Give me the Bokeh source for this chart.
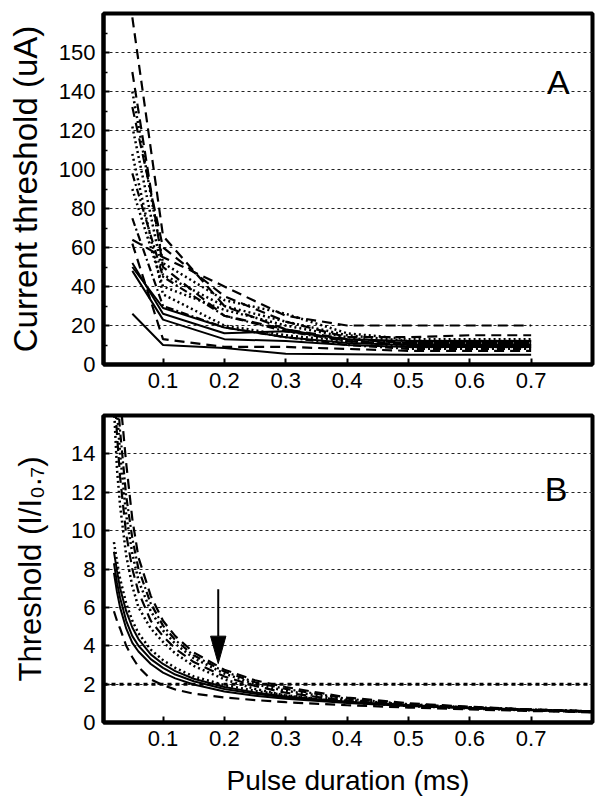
from bokeh.plotting import figure
from bokeh.layouts import column
from bokeh.models import Range1d, FixedTicker, Span, Label
from bokeh.embed import file_html
from bokeh.resources import INLINE

FONT = "Liberation Sans"

# ---------------- Panel A data: current threshold (uA) vs pulse duration (ms)
pulse_a = [0.05, 0.1, 0.2, 0.3, 0.4, 0.5, 0.6, 0.7]
a_solid = [
    [26, 10, 8.4, 5.5, 5.2, 5.0, 5.0, 5.0],
    [48, 23, 13, 12, 10, 9, 9, 9],
    [52, 26, 16, 17, 13, 12, 12, 12],
    [50, 29, 19, 14, 11, 10, 10, 10],
]
a_dashed = [
    [178, 66, 30, 18, 13, 11, 11, 11],
    [64, 55, 40, 25, 20, 20, 20, 20],
    [62, 13, 9, 9, 8, 7, 7, 7],
    [150, 50, 25, 18, 12, 10, 10, 10],
    [132, 60, 35, 22, 14, 14, 15, 15],
]
a_dotted = [
    [140, 52, 33, 26, 16, 13, 13, 13],
    [122, 46, 30, 22, 15, 12, 12, 12],
    [90, 40, 28, 20, 14, 10, 10, 10],
    [108, 36, 20, 15, 12, 9, 9, 9],
]
a_dashdot = [
    [75, 30, 19, 14, 10, 8, 8, 8],
    [98, 45, 25, 17, 12, 11, 11, 11],
]
y_ticks_a = [0, 20, 40, 60, 80, 100, 120, 140, 160]
y_minor_a = [10, 30, 50, 70, 90, 110, 130, 150, 170]
y_labels_a = {160: "150"}

# ---------------- Panel B data: normalised threshold I/I0.7
pulse_b = [0.02, 0.025, 0.03, 0.04, 0.05, 0.06, 0.08, 0.1, 0.12, 0.15,
           0.2, 0.25, 0.3, 0.4, 0.5, 0.6, 0.7, 0.8]
b_solid = [
    [7.8, 6.8, 6.0, 4.9, 4.15, 3.7, 3.05, 2.6, 2.3, 1.98, 1.62, 1.4, 1.24, 1.02, 0.86, 0.74, 0.64, 0.56],
    [8.3, 7.3, 6.5, 5.3, 4.5, 4.0, 3.3, 2.85, 2.5, 2.15, 1.75, 1.5, 1.3, 1.05, 0.88, 0.75, 0.65, 0.57],
    [8.9, 7.9, 7.0, 5.8, 4.95, 4.35, 3.55, 3.05, 2.68, 2.28, 1.85, 1.57, 1.36, 1.08, 0.9, 0.77, 0.66, 0.58],
]
b_dashed = [
    [5.8, 5.3, 4.9, 4.0, 3.4, 2.9, 2.25, 1.95, 1.72, 1.5, 1.3, 1.17, 1.06, 0.9, 0.78, 0.68, 0.6, 0.53],
    [18, 15, 12.8, 9.8, 8.0, 6.8, 5.3, 4.5, 3.85, 3.15, 2.4, 1.9, 1.55, 1.13, 0.9, 0.76, 0.65, 0.56],
    [21, 19, 17, 13.5, 10.6, 8.6, 6.6, 5.3, 4.5, 3.65, 2.75, 2.2, 1.85, 1.3, 1.0, 0.82, 0.68, 0.58],
]
b_dotted = [
    [9.4, 8.4, 7.5, 6.2, 5.3, 4.65, 3.8, 3.25, 2.85, 2.4, 1.95, 1.65, 1.42, 1.12, 0.92, 0.78, 0.67, 0.58],
    [16.5, 13.2, 11.3, 8.7, 7.1, 6.0, 4.9, 4.2, 3.6, 2.95, 2.25, 1.75, 1.4, 1.05, 0.86, 0.73, 0.63, 0.55],
    [19, 16.3, 14, 10.8, 8.8, 7.4, 5.8, 4.8, 4.1, 3.35, 2.55, 2.0, 1.65, 1.18, 0.93, 0.78, 0.66, 0.57],
]
b_dashdot = [
    [20, 17.5, 15.2, 11.8, 9.6, 8.0, 6.2, 5.05, 4.3, 3.5, 2.65, 2.1, 1.75, 1.24, 0.96, 0.8, 0.67, 0.58],
]
y_ticks_b = [0, 2, 4, 6, 8, 10, 12, 14]
y_lim_b = (0, 16)
ref_level = 2
arrow_x = 0.19
arrow_top = 6.95
arrow_head_base = 4.5
arrow_tip = 3.07
arrow_half_width = 0.0125

x_ticks = [0.1, 0.2, 0.3, 0.4, 0.5, 0.6, 0.7]
x_lim = (0.003, 0.80)

STYLES = {
    "solid": dict(line_dash="solid", line_width=2),
    "dashed": dict(line_dash="10 6", line_width=2.2),
    "dotted": dict(line_dash="2 3", line_width=2.5),
    "dashdot": dict(line_dash="8 3 2 3", line_width=2.2),
}


def style(p, yticks, yminor):
    p.outline_line_color = "black"
    p.outline_line_width = 4
    p.outline_line_alpha = 1
    p.background_fill_color = "white"
    p.border_fill_color = "white"
    p.xgrid.visible = False
    p.ygrid.grid_line_color = "#222222"
    p.ygrid.grid_line_dash = "3 3"
    p.ygrid.grid_line_width = 1
    p.xaxis.ticker = FixedTicker(ticks=x_ticks, minor_ticks=[])
    p.yaxis.ticker = FixedTicker(ticks=yticks, minor_ticks=yminor)
    for ax in p.axis:
        ax.axis_line_width = 4
        ax.axis_line_color = "black"
        ax.major_tick_in = 6
        ax.major_tick_out = 0
        ax.major_tick_line_width = 2
        ax.minor_tick_in = 4
        ax.minor_tick_out = 0
        ax.minor_tick_line_width = 1.5
        ax.major_label_text_font = FONT
        ax.major_label_text_font_size = "22px"
        ax.major_label_text_color = "black"
        ax.major_label_standoff = 8
        ax.axis_label_text_font = FONT
        ax.axis_label_text_font_style = "normal"
        ax.axis_label_text_color = "black"


def draw(p, xs, groups):
    for name, series in groups:
        for ys in series:
            p.line(xs, ys, line_color="black", **STYLES[name])


# ---------------- Panel A
p1 = figure(width=600, height=400, x_range=Range1d(*x_lim), y_range=Range1d(0, 180),
            output_backend="svg", toolbar_location=None,
            min_border_left=103, min_border_right=8, min_border_top=13, min_border_bottom=36)
style(p1, y_ticks_a, y_minor_a)
p1.yaxis.major_label_overrides = y_labels_a
p1.yaxis.axis_label = "Current threshold (uA)"
p1.yaxis.axis_label_text_font_size = "33px"
p1.yaxis.axis_label_standoff = 12
draw(p1, pulse_a, [("dotted", a_dotted), ("dashdot", a_dashdot),
                   ("dashed", a_dashed), ("solid", a_solid)])
p1.add_layout(Label(x=0.7626, y=144.7, text="A", text_align="right",
                    text_baseline="alphabetic", text_font=FONT,
                    text_font_size="34px", text_color="black"))

# ---------------- Panel B
p2 = figure(width=600, height=404, x_range=Range1d(*x_lim), y_range=Range1d(*y_lim_b),
            output_backend="svg", toolbar_location=None,
            min_border_left=103, min_border_right=8, min_border_top=15, min_border_bottom=82)
style(p2, y_ticks_b, [])
p2.yaxis.minor_tick_in = 0
p2.yaxis.axis_label = "Threshold (I/I\u2080.\u2087)"
p2.yaxis.axis_label_text_font_size = "31px"
p2.yaxis.axis_label_standoff = 20
p2.xaxis.axis_label = "Pulse duration (ms)"
p2.xaxis.axis_label_text_font_size = "28px"
p2.xaxis.axis_label_standoff = 16
p2.add_layout(Span(location=ref_level, dimension="width", line_color="black",
                   line_dash="4 4", line_width=3))
draw(p2, pulse_b, [("dotted", b_dotted), ("dashdot", b_dashdot),
                   ("dashed", b_dashed), ("solid", b_solid)])
p2.segment(x0=[arrow_x], y0=[arrow_top], x1=[arrow_x], y1=[arrow_head_base],
           line_color="black", line_width=2)
p2.patch(x=[arrow_x - arrow_half_width, arrow_x + arrow_half_width, arrow_x],
         y=[arrow_head_base, arrow_head_base, arrow_tip], color="black")
p2.add_layout(Label(x=0.7593, y=12.19, text="B", text_align="right",
                    text_baseline="alphabetic", text_font=FONT,
                    text_font_size="34px", text_color="black"))

layout = column(p1, p2, spacing=0)
open("out.html", "w").write(file_html(layout, INLINE))
